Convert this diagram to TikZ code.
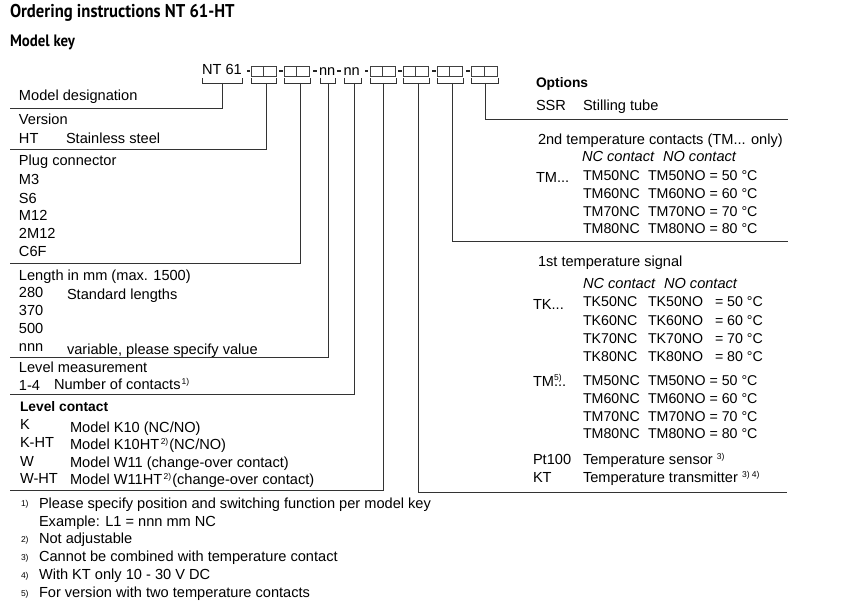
\documentclass[tikz,border=0pt]{standalone}
\usepackage{fontspec}
\setmainfont{Liberation Sans}
\newfontfamily\titlefont{PT Sans}
\newcommand\supx[1]{\raisebox{4.5pt}{\fontsize{8.5}{9}\selectfont #1}}
\begin{document}
\begin{tikzpicture}[x=1pt,y=-1pt,
  every node/.style={inner sep=0pt, outer sep=0pt, anchor=base west, font=\fontsize{14.6}{17}\selectfont, text=black},
  ttl/.style={font=\titlefont\bfseries\fontsize{18.5}{22}\selectfont},
  sub/.style={font=\titlefont\bfseries\fontsize{16.5}{20}\selectfont},
  hd/.style={font=\bfseries\fontsize{13.8}{16}\selectfont},
  it/.style={font=\itshape\fontsize{14.6}{17}\selectfont},
  fnm/.style={font=\fontsize{8.5}{10}\selectfont},
  tight/.style={font=\fontsize{14.2}{17}\selectfont},
  ln/.style={draw=black!80, line width=0.9pt},
  sq/.style={draw=black!75, line width=0.8pt, minimum width=12.8pt, minimum height=10pt, anchor=south west},
  dsh/.style={fill=black!85, minimum width=3.5pt, minimum height=2pt, anchor=center},
]
\useasboundingbox (0,0) rectangle (860,604);

% titles
\node[ttl] (title) at (10,18) {\scalebox{0.9}[1]{Ordering instructions NT 61-HT}};
\node[sub] (mkey) at (10,47) {\scalebox{0.9}[1]{Model key}};

% model code row
\node (nt) at (202,75) {NT 61};
\node[dsh] (d1) at (248.5,71) {};
\node[sq] (p1a) at (251,76) {};
\node[sq] (p1b) at (p1a.south east) {};
\node[dsh] (d2) at (281,71) {};
\node[sq] (p2a) at (284,76) {};
\node[sq] (p2b) at (p2a.south east) {};
\node[dsh] (d3) at (315,71) {};
\node (nn1) at (319,76) {nn};
\node[dsh] (d4) at (339,71) {};
\node (nn2) at (343.5,76) {nn};
\node[dsh] (d5) at (366.5,71) {};
\node[sq] (p3a) at (370,76) {};
\node[sq] (p3b) at (p3a.south east) {};
\node[dsh] (d6) at (400,71) {};
\node[sq] (p4a) at (403,76) {};
\node[sq] (p4b) at (p4a.south east) {};
\node[dsh] (d7) at (434,71) {};
\node[sq] (p5a) at (437,76) {};
\node[sq] (p5b) at (p5a.south east) {};
\node[dsh] (d8) at (468,71) {};
\node[sq] (p6a) at (471.5,76) {};
\node[sq] (p6b) at (p6a.south east) {};

% brackets
\foreach \a/\b in {202/242, 251/276.6, 284.5/310, 320/335, 344/361, 370/396.6, 403/429.6, 437/463.6, 471.5/498}
  \draw[ln] (\a,78) -- (\a,83) -- (\b,83) -- (\b,78);

% connector lines
\coordinate (b1) at (222,83);  \coordinate (e1) at (10,108);
\coordinate (b2) at (266,83);  \coordinate (e2) at (10,149);
\coordinate (b3) at (300,83);  \coordinate (e3) at (10,263);
\coordinate (b4) at (328,83);  \coordinate (e4) at (10,357);
\coordinate (b5) at (354,83);  \coordinate (e5) at (10,394);
\coordinate (b6) at (383,83);  \coordinate (e6) at (10,490);
\coordinate (b7) at (418,83);  \coordinate (e7) at (787,492);
\coordinate (b8) at (452,83);  \coordinate (e8) at (788,241);
\coordinate (b9) at (485,83);  \coordinate (e9) at (788,119);
\foreach \i in {1,...,9} \draw[ln] (b\i) |- (e\i);

% left column
\node (l1) at (19,101) {Model designation};
\node (l2) at (19,125) {Version};
\node (l3) at (19,144) {HT};
\node (l3b) at (66,144) {Stainless steel};
\node (l4) at (19,166) {Plug connector};
\node (l5) at (19,185) {M3};
\node (l6) at (19,204) {S6};
\node (l7) at (19,221) {M12};
\node (l8) at (19,239) {2M12};
\node (l9) at (19,257) {C6F};
\node (l10) at (19,280) {Length in mm (max. 1500)};
\node (l11) at (19,298) {280};
\node (l11b) at (67,300) {Standard lengths};
\node (l12) at (19,316) {370};
\node (l13) at (19,334) {500};
\node (l14) at (19,352) {nnn};
\node (l14b) at (67,354) {variable, please specify value};
\node (l15) at (19,372) {Level measurement};
\node (l16) at (19,390) {1-4};
\node (l16b) at (54,389) {Number of contacts\kern1pt\supx{1)}};
\node[hd] (l17) at (20,411) {Level contact};
\node (l18) at (20,429) {K};
\node (l18b) at (70,432) {Model K10 (NC/NO)};
\node (l19) at (20,447) {K-HT};
\node (l19b) at (70,449) {Model K10HT\kern1.5pt\supx{2)}\kern1pt(NC/NO)};
\node (l20) at (20,466) {W};
\node (l20b) at (70,467) {Model W11 (change-over contact)};
\node (l21) at (20,483) {W-HT};
\node (l21b) at (70,484) {Model W11HT\kern1.5pt\supx{2)}\kern1pt(change-over contact)};

% right column
\node[hd] (r1) at (536,88) {Options};
\node (r2) at (536,111) {SSR};
\node (r2b) at (583,111) {Stilling tube};
\node (r3) at (538,145) {2nd temperature contacts (TM... only)};
\node[it] (r4) at (582,162) {NC contact};
\node[it] (r4b) at (663,162) {NO contact};
\node (r5) at (536,183) {TM...};
\foreach \v/\yy in {50/181, 60/199, 70/217, 80/234} {
  \node[tight] (ma\v) at (583,\yy) {TM\v NC};
  \node[tight] (mb\v) at (648,\yy) {TM\v NO = \v\ °C};
}
\node (r6) at (538,267) {1st temperature signal};
\node[it] (r7) at (583,289) {NC contact};
\node[it] (r7b) at (664,289) {NO contact};
\node (r8) at (533,309) {TK...};
\foreach \v/\yy in {50/307, 60/325, 70/343, 80/361} {
  \node[tight] (ka\v) at (583,\yy) {TK\v NC};
  \node[tight] (kb\v) at (648,\yy) {TK\v NO};
  \node[tight] (kc\v) at (715,\yy) {= \v\ °C};
}
\node (r9) at (533,386) {TM\rlap{\raisebox{5.5pt}{\fontsize{8.5}{9}\selectfont 5)}}...};
\foreach \v/\yy in {50/385, 60/403, 70/421, 80/438} {
  \node[tight] (na\v) at (583,\yy) {TM\v NC};
  \node[tight] (nb\v) at (648,\yy) {TM\v NO = \v\ °C};
}
\node (r10) at (533,464) {Pt100};
\node (r10b) at (583,464) {Temperature sensor \supx{3)}};
\node (r11) at (533,482) {KT};
\node (r11b) at (583,482) {Temperature transmitter \supx{3) 4)}};

% footnotes
\node[fnm] (f1m) at (21,506) {1)};
\node (f1) at (39,508) {Please specify position and switching function per model key};
\node (f1b) at (39,526) {Example: L1 = nnn mm NC};
\node[fnm] (f2m) at (21,542) {2)};
\node (f2) at (39,543) {Not adjustable};
\node[fnm] (f3m) at (21,560) {3)};
\node (f3) at (39,561) {Cannot be combined with temperature contact};
\node[fnm] (f4m) at (21,578) {4)};
\node (f4) at (39,579) {With KT only 10 - 30 V DC};
\node[fnm] (f5m) at (21,596) {5)};
\node (f5) at (39,597) {For version with two temperature contacts};
\end{tikzpicture}
\end{document}
